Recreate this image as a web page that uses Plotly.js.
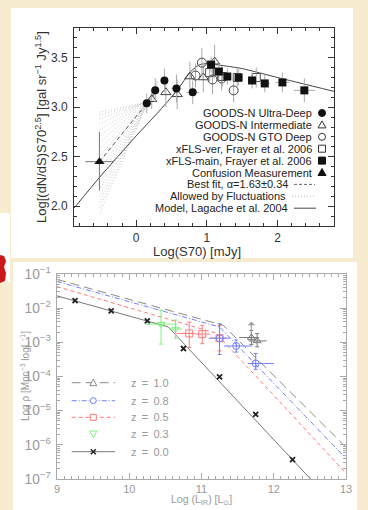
<!DOCTYPE html>
<html><head><meta charset="utf-8">
<script src="https://cdn.plot.ly/plotly-3.0.1.min.js"></script>
<style>html,body{margin:0;padding:0;background:#f7ebd0;} #chart{width:368px;height:510px;}</style>
</head><body><div id="chart"></div>
<script>
// ===== Top panel: differential counts =====
const udX = [0.15, 0.27, 0.40, 0.57, 0.80];
const udY = [3.04, 3.17, 3.27, 3.19, 3.15];
const udErr = [0.10, 0.12, 0.12, 0.14, 0.12];
const udXErr = [0.05, 0.05, 0.05, 0.07, 0.09];

const intX = [0.22, 0.42, 0.58, 0.76, 0.95, 1.11];
const intY = [3.08, 3.15, 3.13, 3.31, 3.30, 3.46];
const intErr = [0.10, 0.15, 0.15, 0.15, 0.15, 0.17];

const gtoX = [0.84, 0.93, 1.08, 1.21, 1.38];
const gtoY = [3.32, 3.45, 3.28, 3.29, 3.17];
const gtoErr = [0.12, 0.15, 0.15, 0.12, 0.12];

const verX = [1.04, 1.22, 1.43, 1.70];
const verY = [3.35, 3.31, 3.30, 3.30];
const verErr = [0.10, 0.10, 0.10, 0.10];

const mainX = [1.06, 1.17, 1.29, 1.45, 1.64, 1.82, 2.07, 2.38];
const mainY = [3.43, 3.36, 3.31, 3.30, 3.27, 3.24, 3.25, 3.17];
const mainErr = [0.08, 0.08, 0.08, 0.08, 0.08, 0.09, 0.10, 0.12];
const mainXErr = [0.04, 0.04, 0.04, 0.05, 0.06, 0.07, 0.10, 0.15];

const confX = [-0.52];
const confY = [2.45];
const confErrUp = [0.30];
const confErrDown = [0.29];
const confXErr = [0.20];

const fitX = [-0.52, 0.30];
const fitY = [2.45, 3.17];

const fanX = [-0.52, 0.30];
const fanStartY = [1.92, 1.98, 2.04, 2.10, 2.16, 2.22, 2.29, 2.36, 2.43, 2.50, 2.57, 2.64, 2.71, 2.77, 2.83, 2.88, 2.92, 2.95];
const fanEndY   = [3.27, 3.26, 3.25, 3.24, 3.23, 3.22, 3.21, 3.20, 3.19, 3.18, 3.17, 3.16, 3.15, 3.13, 3.11, 3.09, 3.08, 3.07];

const modelX = [-0.88, -0.52, 0.00, 0.30, 0.58, 0.77, 0.90, 1.00, 1.50, 2.00, 2.80];
const modelY = [1.98, 2.29, 2.71, 2.94, 3.17, 3.36, 3.43, 3.44, 3.39, 3.30, 3.16];

const topXTicks = [0, 1, 2];
const topYTicks = [2.0, 2.5, 3.0, 3.5];
const topLegendLabels = ['GOODS-N Ultra-Deep', 'GOODS-N Intermediate', 'GOODS-N GTO Deep',
  'xFLS-ver, Frayer et al. 2006', 'xFLS-main, Frayer et al. 2006', 'Confusion Measurement',
  'Best fit, \u03b1=1.63\u00b10.34', 'Allowed by Fluctuations', 'Model, Lagache et al. 2004'];

// ===== Bottom panel: luminosity functions =====
const modelL1 = [9, 11.3, 13];    const modelRho1 = [6.92e-2, 3.16e-3, 8.5e-7];   // z = 1.0
const modelL08 = [9, 11.25, 13];  const modelRho08 = [6.03e-2, 2.82e-3, 3.98e-7]; // z = 0.8
const modelL05 = [9, 11.2, 13];   const modelRho05 = [4.27e-2, 1.86e-3, 1.48e-7]; // z = 0.5
const modelL0 = [9, 10.54, 12.51]; const modelRho0 = [2.29e-2, 2.82e-3, 1.0e-7];  // z = 0.0

const z0L = [9.25, 9.75, 10.25, 10.75, 11.25, 11.75, 12.26];
const z0Rho = [1.66e-2, 8.3e-3, 4.27e-3, 6.6e-4, 9.8e-5, 7.8e-6, 3.7e-7];

const z03L = [10.44, 10.64];
const z03Rho = [3.4e-3, 2.45e-3];
const z03Hi = [8.7e-3, 4.5e-3];
const z03Lo = [8.9e-4, 1.32e-3];
const z03Lmin = [10.22, 10.55];
const z03Lmax = [10.66, 10.73];

const z05L = [10.83, 11.01, 11.25];
const z05Rho = [1.82e-3, 1.74e-3, 1.32e-3];
const z05Hi = [3.9e-3, 3.16e-3, 3.1e-3];
const z05Lo = [7.1e-4, 9.1e-4, 5.6e-4];
const z05Lmin = [10.65, 10.92, 11.12];
const z05Lmax = [10.92, 11.12, 11.35];

const z08L = [11.25, 11.48, 11.75];
const z08Rho = [1.32e-3, 7.8e-4, 2.4e-4];
const z08Hi = [3.5e-3, 1.17e-3, 4.7e-4];
const z08Lo = [4.4e-4, 5.2e-4, 1.62e-4];
const z08Lmin = [11.10, 11.31, 11.64];
const z08Lmax = [11.40, 11.70, 12.00];

const z10L = [11.69, 11.77];
const z10Rho = [1.38e-3, 1.10e-3];
const z10Hi = [2.24e-3, 1.82e-3];
const z10Lo = [8.7e-4, 7.4e-4];
const z10Lmin = [11.52, 11.65];
const z10Lmax = [11.80, 11.90];
const z10Limit = [4.0e-3]; // upper arrow tip for first z=1.0 point

const botXTicks = [9, 10, 11, 12, 13];
const botLegendLabels = ['z = 1.0', 'z = 0.8', 'z = 0.5', 'z = 0.3', 'z = 0.0'];

// ===== helpers =====
const W = 368, H = 510;
const px = v => v / W;
const py = v => 1 - v / H;
const FONT = 'Liberation Sans, Arial, sans-serif';
const sub = (a, b) => a.map((v, i) => v - b[i]);

const GREY = '#aaaaaa';
const BLUE = '#6f80ff';
const RED = '#ff7a7a';
const GREEN = '#7ef07e';
const DGREY = '#8a8a8a';

// fan trace built from arrays
const fanXs = [], fanYs = [];
fanStartY.forEach((s, i) => { fanXs.push(fanX[0], fanX[1], null); fanYs.push(s, fanEndY[i], null); });

function errY(arr) { return {type: 'data', array: arr, color: GREY, thickness: 1, width: 0}; }
function errX(arr) { return {type: 'data', array: arr, color: GREY, thickness: 1, width: 0}; }

const traces = [
  {x: fanXs, y: fanYs, mode: 'lines', line: {color: '#b4b4b4', width: 0.7, dash: '1px,2px'}, xaxis: 'x', yaxis: 'y'},
  {x: fitX, y: fitY, mode: 'lines', line: {color: '#555', width: 1, dash: '4px,3px'}, xaxis: 'x', yaxis: 'y'},
  {x: modelX, y: modelY, mode: 'lines', line: {color: '#444', width: 1, shape: 'spline', smoothing: 0.5}, xaxis: 'x', yaxis: 'y'},
  {x: confX, y: confY, mode: 'markers', marker: {symbol: 'triangle-up', size: 9, color: '#111'},
   error_y: {type: 'data', symmetric: false, array: confErrUp, arrayminus: confErrDown, color: '#777', thickness: 1, width: 0},
   error_x: {type: 'data', array: confXErr, color: '#777', thickness: 1, width: 0}, xaxis: 'x', yaxis: 'y'},
  {x: intX, y: intY, mode: 'markers', marker: {symbol: 'triangle-up-open', size: 9, color: '#444', line: {width: 1}}, error_y: errY(intErr), xaxis: 'x', yaxis: 'y'},
  {x: gtoX, y: gtoY, mode: 'markers', marker: {symbol: 'circle-open', size: 9, color: '#444', line: {width: 1}}, error_y: errY(gtoErr), xaxis: 'x', yaxis: 'y'},
  {x: verX, y: verY, mode: 'markers', marker: {symbol: 'square-open', size: 8, color: '#555', line: {width: 1}}, error_y: errY(verErr), xaxis: 'x', yaxis: 'y'},
  {x: udX, y: udY, mode: 'markers', marker: {symbol: 'circle', size: 8, color: '#111'}, error_y: errY(udErr), error_x: errX(udXErr), xaxis: 'x', yaxis: 'y'},
  {x: mainX, y: mainY, mode: 'markers', marker: {symbol: 'square', size: 8, color: '#111'}, error_y: errY(mainErr), error_x: errX(mainXErr), xaxis: 'x', yaxis: 'y'},

  // bottom panel lines
  {x: modelL1, y: modelRho1, mode: 'lines', line: {color: DGREY, width: 1, dash: '9px,5px'}, xaxis: 'x2', yaxis: 'y2'},
  {x: modelL08, y: modelRho08, mode: 'lines', line: {color: BLUE, width: 1, dash: '5px,2px,1px,2px'}, xaxis: 'x2', yaxis: 'y2'},
  {x: modelL05, y: modelRho05, mode: 'lines', line: {color: RED, width: 1, dash: '4px,3px'}, xaxis: 'x2', yaxis: 'y2'},
  {x: modelL0, y: modelRho0, mode: 'lines', line: {color: '#777', width: 1}, xaxis: 'x2', yaxis: 'y2'},
  {x: z0L, y: z0Rho, mode: 'markers', marker: {symbol: 'x-thin-open', size: 5, color: '#222', line: {width: 1.8, color: '#222'}}, xaxis: 'x2', yaxis: 'y2'},
  {x: z03L, y: z03Rho, mode: 'markers', marker: {symbol: 'triangle-down-open', size: 7, color: GREEN, line: {width: 1}},
   error_y: {type: 'data', symmetric: false, array: sub(z03Hi, z03Rho), arrayminus: sub(z03Rho, z03Lo), color: GREEN, thickness: 1, width: 2},
   error_x: {type: 'data', symmetric: false, array: sub(z03Lmax, z03L), arrayminus: sub(z03L, z03Lmin), color: GREEN, thickness: 1, width: 0},
   xaxis: 'x2', yaxis: 'y2'},
  {x: z05L, y: z05Rho, mode: 'markers', marker: {symbol: 'square-open', size: 7, color: RED, line: {width: 1}},
   error_y: {type: 'data', symmetric: false, array: sub(z05Hi, z05Rho), arrayminus: sub(z05Rho, z05Lo), color: RED, thickness: 1, width: 2},
   error_x: {type: 'data', symmetric: false, array: sub(z05Lmax, z05L), arrayminus: sub(z05L, z05Lmin), color: RED, thickness: 1, width: 0},
   xaxis: 'x2', yaxis: 'y2'},
  {x: z08L, y: z08Rho, mode: 'markers', marker: {symbol: 'circle-open', size: 7, color: BLUE, line: {width: 1}},
   error_y: {type: 'data', symmetric: false, array: sub(z08Hi, z08Rho), arrayminus: sub(z08Rho, z08Lo), color: BLUE, thickness: 1, width: 2},
   error_x: {type: 'data', symmetric: false, array: sub(z08Lmax, z08L), arrayminus: sub(z08L, z08Lmin), color: BLUE, thickness: 1, width: 0},
   xaxis: 'x2', yaxis: 'y2'},
  {x: z10L, y: z10Rho, mode: 'markers', marker: {symbol: 'triangle-up-open', size: 7, color: '#777', line: {width: 1}},
   error_y: {type: 'data', symmetric: false, array: sub(z10Hi, z10Rho), arrayminus: sub(z10Rho, z10Lo), color: '#777', thickness: 1, width: 2},
   error_x: {type: 'data', symmetric: false, array: sub(z10Lmax, z10L), arrayminus: sub(z10L, z10Lmin), color: '#777', thickness: 1, width: 0},
   xaxis: 'x2', yaxis: 'y2'}
];
traces.forEach(t => { t.showlegend = false; t.hoverinfo = 'skip'; });

// ===== shapes =====
const shapes = [
  {type: 'rect', xref: 'paper', yref: 'paper', x0: px(11), x1: px(353), y0: py(258), y1: py(8), fillcolor: '#ffffff', line: {width: 0}, layer: 'below'},
  {type: 'rect', xref: 'paper', yref: 'paper', x0: px(13), x1: px(357), y0: py(510), y1: py(262), fillcolor: '#ffffff', line: {width: 0}, layer: 'below'},
  {type: 'rect', xref: 'paper', yref: 'paper', x0: px(0), x1: px(10), y0: py(282), y1: py(213), fillcolor: '#ffffff', line: {width: 0}, layer: 'below'},
  {type: 'path', xref: 'paper', yref: 'paper', layer: 'below', fillcolor: '#cc1818', line: {width: 0},
   path: 'M ' + [[0,255],[4,256],[6,261],[4,267],[6,273],[5,281],[0,283]].map(p => px(p[0]) + ',' + py(p[1])).join(' L ') + ' Z'}
];
function pLine(x0, x1, y, color, dash, width) {
  return {type: 'line', xref: 'paper', yref: 'paper', x0: px(x0), x1: px(x1), y0: py(y), y1: py(y), line: {color: color, width: width || 1, dash: dash || 'solid'}};
}
function pCirc(cx, cy, r, fill, color) {
  return {type: 'circle', xref: 'paper', yref: 'paper', x0: px(cx - r), x1: px(cx + r), y0: py(cy + r), y1: py(cy - r), fillcolor: fill, line: {color: color, width: 1}};
}
function pPoly(pts, fill, color) {
  return {type: 'path', xref: 'paper', yref: 'paper', fillcolor: fill, line: {color: color, width: 1},
    path: 'M ' + pts.map(p => px(p[0]) + ',' + py(p[1])).join(' L ') + ' Z'};
}
const NONE = 'rgba(0,0,0,0)';

// top legend
const annotations = [];
const tlRows = topLegendLabels.map((_, i) => 113 + 11.9 * i);
const tlTextRight = [314, 314, 314, 314, 314, 314, 290, 288, 290];
topLegendLabels.forEach((lab, i) => {
  annotations.push({xref: 'paper', yref: 'paper', x: px(tlTextRight[i]), y: py(tlRows[i]), xanchor: 'right', yanchor: 'middle',
    text: lab, showarrow: false, font: {family: FONT, size: 11, color: '#222'}});
});
const sx = 322;
shapes.push(pCirc(sx, tlRows[0], 3.5, '#111', '#111'));
shapes.push(pPoly([[sx - 4, tlRows[1] + 3], [sx + 4, tlRows[1] + 3], [sx, tlRows[1] - 4]], NONE, '#333'));
shapes.push(pCirc(sx, tlRows[2], 3.5, NONE, '#333'));
shapes.push(pPoly([[sx - 3.5, tlRows[3] - 3.5], [sx + 3.5, tlRows[3] - 3.5], [sx + 3.5, tlRows[3] + 3.5], [sx - 3.5, tlRows[3] + 3.5]], NONE, '#333'));
shapes.push(pPoly([[sx - 3.5, tlRows[4] - 3.5], [sx + 3.5, tlRows[4] - 3.5], [sx + 3.5, tlRows[4] + 3.5], [sx - 3.5, tlRows[4] + 3.5]], '#111', '#111'));
shapes.push(pPoly([[sx - 4, tlRows[5] + 3], [sx + 4, tlRows[5] + 3], [sx, tlRows[5] - 4]], '#111', '#111'));
shapes.push(pLine(294, 315, tlRows[6], '#666', '3px,2px'));
shapes.push(pLine(292, 315, tlRows[7], '#bbb', '1px,2px'));
shapes.push(pLine(294, 316, tlRows[8], '#444'));

// bottom legend
const blRows = [382.7, 400.7, 417.3, 434, 451.7];
const lx0 = 71.7, lx1 = 115, lsx = 93.3;
shapes.push(pLine(lx0, lx1, blRows[0], DGREY, '9px,5px'));
shapes.push(pPoly([[lsx - 3.5, blRows[0] + 3], [lsx + 3.5, blRows[0] + 3], [lsx, blRows[0] - 3.5]], '#fff', DGREY));
shapes.push(pLine(lx0, lx1, blRows[1], BLUE, '5px,2px,1px,2px'));
shapes.push(pCirc(lsx, blRows[1], 3, '#fff', BLUE));
shapes.push(pLine(lx0, lx1, blRows[2], RED, '4px,3px'));
shapes.push(pPoly([[lsx - 3, blRows[2] - 3], [lsx + 3, blRows[2] - 3], [lsx + 3, blRows[2] + 3], [lsx - 3, blRows[2] + 3]], '#fff', RED));
shapes.push(pPoly([[lsx - 3.5, blRows[3] - 3], [lsx + 3.5, blRows[3] - 3], [lsx, blRows[3] + 3.5]], NONE, GREEN));
shapes.push(pLine(lx0, lx1, blRows[4], '#777'));
shapes.push({type: 'line', xref: 'paper', yref: 'paper', x0: px(lsx - 2.5), x1: px(lsx + 2.5), y0: py(blRows[4] - 2.5), y1: py(blRows[4] + 2.5), line: {color: '#222', width: 1.5}});
shapes.push({type: 'line', xref: 'paper', yref: 'paper', x0: px(lsx - 2.5), x1: px(lsx + 2.5), y0: py(blRows[4] + 2.5), y1: py(blRows[4] - 2.5), line: {color: '#222', width: 1.5}});
botLegendLabels.forEach((lab, i) => {
  annotations.push({xref: 'paper', yref: 'paper', x: px(129), y: py(blRows[i]), xanchor: 'left', yanchor: 'middle',
    text: lab.replace(/ /g, '\u2009 '), showarrow: false, font: {family: FONT, size: 11, color: '#999'}});
});

// axis titles
annotations.push({xref: 'paper', yref: 'paper', x: px(41), y: py(127), textangle: -90, xanchor: 'center', yanchor: 'middle', showarrow: false,
  text: 'Log[(dN/dS)S70<sup>2.5</sup>] [gal sr<sup>\u22121</sup> Jy<sup>1.5</sup>]', font: {family: FONT, size: 13, color: '#333'}});
annotations.push({xref: 'paper', yref: 'paper', x: px(197), y: py(251), xanchor: 'center', yanchor: 'middle', showarrow: false,
  text: 'Log(S70) [mJy]', font: {family: FONT, size: 13, color: '#333'}});
annotations.push({xref: 'paper', yref: 'paper', x: px(201), y: py(500), xanchor: 'center', yanchor: 'middle', showarrow: false,
  text: 'Log (L<sub>IR</sub>) [L<sub>\u2299</sub>]', font: {family: FONT, size: 10.5, color: '#999'}});
annotations.push({xref: 'paper', yref: 'paper', x: px(25), y: py(376), textangle: -90, xanchor: 'center', yanchor: 'middle', showarrow: false,
  text: 'Log \u03c1 [Mpc<sup>\u22123</sup> logL<sup>\u22121</sup>]', font: {family: FONT, size: 10, color: '#999'}});
// upper-limit arrow on the z=1.0 point
annotations.push({xref: 'x2', yref: 'y2', x: z10L[0], y: Math.log10(z10Limit[0]), ax: 0, ay: 14, text: '', showarrow: true,
  arrowhead: 1, arrowsize: 1.2, arrowwidth: 1, arrowcolor: '#999'});

const topAxisCommon = {showgrid: false, zeroline: false, showline: true, mirror: 'allticks', linecolor: '#333', linewidth: 1,
  ticks: 'inside', ticklen: 6, tickcolor: '#333', tickfont: {family: FONT, size: 12, color: '#333'}};
const botAxisCommon = {showgrid: false, zeroline: false, showline: true, mirror: 'allticks', linecolor: '#aaa', linewidth: 1,
  ticks: 'inside', ticklen: 6, tickcolor: '#aaa', tickfont: {family: FONT, size: 11, color: '#999'}};

const layout = {
  width: W, height: H, autosize: false,
  margin: {l: 0, r: 0, t: 0, b: 0, pad: 0},
  paper_bgcolor: '#f7ebd0', plot_bgcolor: '#ffffff',
  showlegend: false,
  xaxis: Object.assign({}, topAxisCommon, {domain: [px(74), px(334)], anchor: 'y', range: [-0.88, 2.8],
    tickmode: 'array', tickvals: topXTicks, ticktext: topXTicks.map(String), ticklabelstandoff: 1,
    minor: {ticks: 'inside', ticklen: 3, dtick: 0.2, tick0: 0, tickcolor: '#333'}}),
  yaxis: Object.assign({}, topAxisCommon, {domain: [py(226), py(28)], anchor: 'x', range: [1.8, 3.8],
    tickmode: 'array', tickvals: topYTicks, ticktext: topYTicks.map(v => v.toFixed(1)), ticklabelstandoff: 3,
    minor: {ticks: 'inside', ticklen: 3, dtick: 0.1, tick0: 0, tickcolor: '#333'}}),
  xaxis2: Object.assign({}, botAxisCommon, {domain: [px(57), px(346)], anchor: 'y2', range: [9, 13],
    tickmode: 'array', tickvals: botXTicks, ticktext: botXTicks.map(String), ticklabelstandoff: 0,
    minor: {ticks: 'inside', ticklen: 3, dtick: 0.1, tick0: 9, tickcolor: '#aaa'}}),
  yaxis2: Object.assign({}, botAxisCommon, {domain: [py(479), py(274)], anchor: 'x2', type: 'log', range: [-7, -1],
    dtick: 1, exponentformat: 'power', ticklabelstandoff: 3,
    minor: {ticks: 'inside', ticklen: 3, dtick: 'D1', tickcolor: '#aaa'}}),
  shapes: shapes,
  annotations: annotations
};

Plotly.newPlot('chart', traces, layout, {staticPlot: true, displayModeBar: false});
</script>
</body></html>
